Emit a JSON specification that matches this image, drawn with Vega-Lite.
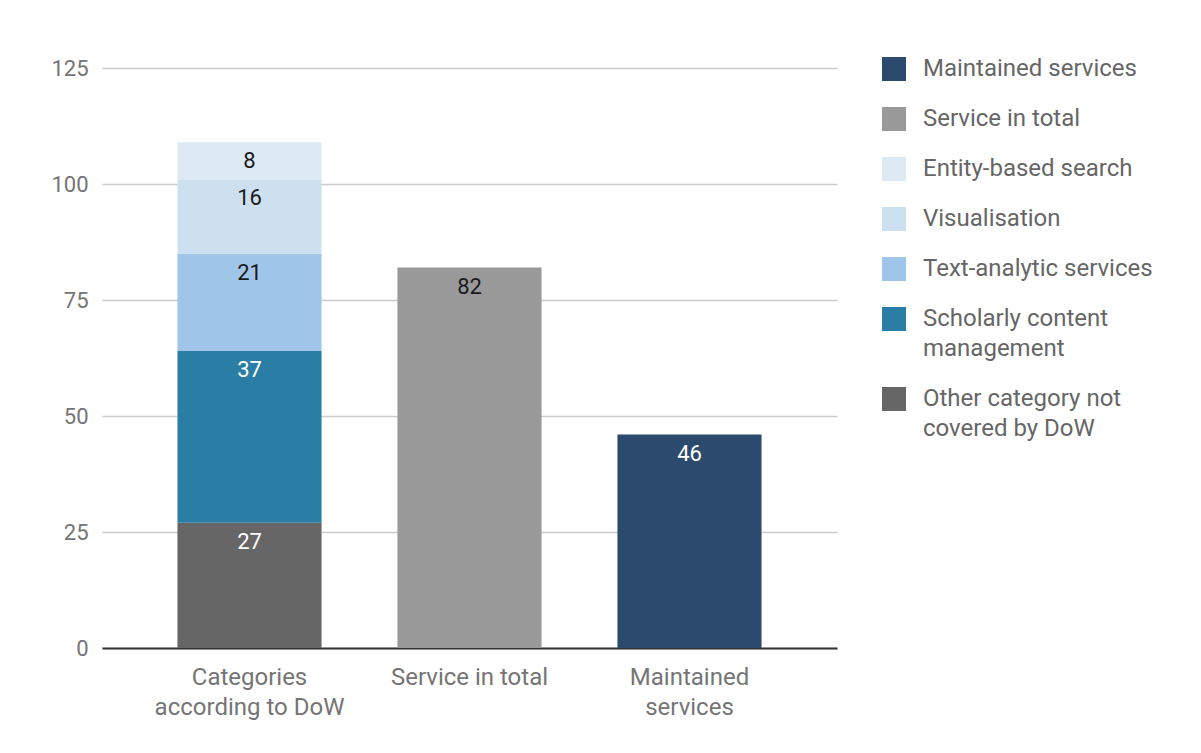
{
  "$schema": "https://vega.github.io/schema/vega-lite/v6.json",
  "width": 735,
  "height": 580,
  "autosize": {"type": "none"},
  "padding": {"left": 102, "top": 68, "right": 364, "bottom": 105},
  "background": "white",
  "data": {
    "values": [
      {"group": "Categories according to DoW", "series": "Other category not covered by DoW", "rank": 1, "count": 27},
      {"group": "Categories according to DoW", "series": "Scholarly content management", "rank": 2, "count": 37},
      {"group": "Categories according to DoW", "series": "Text-analytic services", "rank": 3, "count": 21},
      {"group": "Categories according to DoW", "series": "Visualisation", "rank": 4, "count": 16},
      {"group": "Categories according to DoW", "series": "Entity-based search", "rank": 5, "count": 8},
      {"group": "Service in total", "series": "Service in total", "rank": 1, "count": 82},
      {"group": "Maintained services", "series": "Maintained services", "rank": 1, "count": 46}
    ]
  },
  "encoding": {
    "x": {
      "field": "group",
      "type": "nominal",
      "sort": ["Categories according to DoW", "Service in total", "Maintained services"],
      "scale": {"paddingInner": 0.345, "paddingOuter": 0.343},
      "axis": {
        "title": null,
        "labelAngle": 0,
        "labelFont": "Roboto",
        "labelFontSize": 24,
        "labelColor": "#757575",
        "labelPadding": 17,
        "labelLineHeight": 30,
        "labelLimit": 400,
        "labelExpr": "datum.label == 'Categories according to DoW' ? ['Categories', 'according to DoW'] : datum.label == 'Maintained services' ? ['Maintained', 'services'] : datum.label",
        "ticks": false,
        "domainColor": "#333333",
        "domainWidth": 2
      }
    },
    "y": {
      "field": "count",
      "type": "quantitative",
      "stack": "zero",
      "scale": {"domain": [0, 125]},
      "axis": {
        "title": null,
        "values": [0, 25, 50, 75, 100, 125],
        "labelFont": "Roboto",
        "labelFontSize": 22,
        "labelColor": "#757575",
        "labelPadding": 14,
        "ticks": false,
        "domain": false,
        "gridColor": "#cccccc",
        "gridWidth": 1.5
      }
    },
    "order": {"field": "rank"}
  },
  "layer": [
    {
      "mark": {"type": "bar"},
      "encoding": {
        "color": {
          "field": "series",
          "type": "nominal",
          "scale": {
            "domain": ["Maintained services", "Service in total", "Entity-based search", "Visualisation", "Text-analytic services", "Scholarly content management", "Other category not covered by DoW"],
            "range": ["#2c4a6d", "#999999", "#dde9f3", "#cde0f0", "#9fc5e8", "#2a7ea6", "#666666"]
          },
          "legend": {
            "title": null,
            "orient": "none",
            "legendX": 780,
            "legendY": -11,
            "symbolType": "square",
            "symbolSize": 576,
            "symbolStrokeWidth": 0,
            "symbolOpacity": 1,
            "labelFont": "Roboto",
            "labelFontSize": 24,
            "labelColor": "#666666",
            "labelOffset": 17,
            "labelLimit": 400,
            "rowPadding": 26,
            "labelExpr": "datum.label == 'Scholarly content management' ? ['Scholarly content', 'management'] : datum.label == 'Other category not covered by DoW' ? ['Other category not', 'covered by DoW'] : datum.label",
            "encode": {"labels": {"update": {"lineHeight": {"value": 30}}}}
          }
        }
      }
    },
    {
      "mark": {"type": "text", "baseline": "middle", "dy": 19, "font": "Roboto", "fontSize": 22},
      "encoding": {
        "detail": {"field": "series"},
        "text": {"field": "count", "type": "quantitative"},
        "color": {
          "condition": {
            "test": "indexof(['Other category not covered by DoW', 'Scholarly content management', 'Maintained services'], datum.series) >= 0",
            "value": "white"
          },
          "value": "#1a1a1a"
        }
      }
    }
  ],
  "config": {"view": {"stroke": null}}
}
